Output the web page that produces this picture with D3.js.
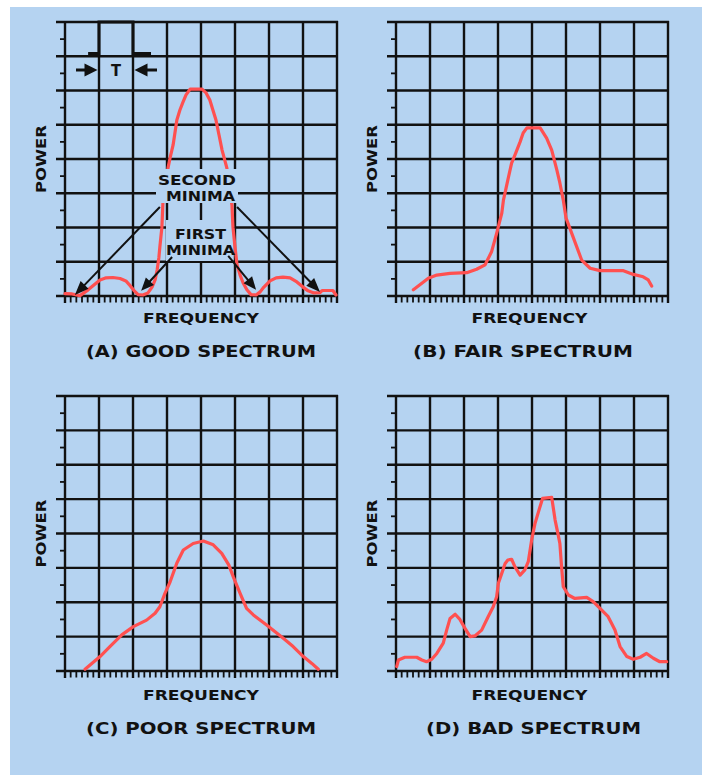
<!DOCTYPE html>
<html><head><meta charset="utf-8">
<script src="https://cdn.jsdelivr.net/npm/d3@7"></script>
<style>html,body{margin:0;padding:0;background:#fff;} svg{display:block}</style>
</head><body><svg id="c" width="702" height="775"></svg>
<script>
// ---------- data (grid units: frequency 0..8 columns, power 0..8 rows) ----------
const panelIds = ["A", "B", "C", "D"];
const captions = ["(A) GOOD SPECTRUM", "(B) FAIR SPECTRUM", "(C) POOR SPECTRUM", "(D) BAD SPECTRUM"];
const xAxisLabel = "FREQUENCY";
const yAxisLabel = "POWER";
const majorTicks = [0, 1, 2, 3, 4, 5, 6, 7, 8];

const goodFreq  = [0,0.21,0.44,0.68,0.85,1.03,1.21,1.41,1.62,1.79,1.91,2.03,2.15,2.29,2.44,2.56,2.65,2.71,2.76,2.79,2.85,2.88,2.94,3.03,3.09,3.18,3.29,3.38,3.47,3.56,3.68,4.03,4.15,4.26,4.35,4.44,4.53,4.62,4.76,4.82,4.91,4.94,5.00,5.06,5.15,5.24,5.35,5.47,5.62,5.74,5.85,6.03,6.21,6.41,6.62,6.82,7.00,7.15,7.32,7.50,7.56,7.88,7.97];
const goodPower = [0.07,0.06,0.01,0.18,0.32,0.47,0.53,0.54,0.51,0.44,0.31,0.16,0.04,0.03,0.09,0.26,0.47,0.76,1.11,1.43,2.01,2.72,3.15,3.74,4.03,4.41,5.14,5.43,5.66,5.87,6.04,6.04,5.93,5.72,5.43,5.14,4.70,4.26,3.74,3.24,2.66,2.01,1.43,0.91,0.61,0.38,0.18,0.04,0.03,0.12,0.26,0.44,0.53,0.55,0.53,0.41,0.26,0.15,0.09,0.10,0.16,0.16,0.03];

const fairFreq  = [0.51,0.76,0.95,1.20,1.59,2.08,2.37,2.62,2.81,2.96,3.11,3.16,3.29,3.40,3.50,3.65,3.74,3.85,4.24,4.43,4.58,4.73,4.82,4.92,5.00,5.21,5.46,5.71,6.00,6.69,6.98,7.27,7.42,7.52];
const fairPower = [0.18,0.37,0.52,0.61,0.66,0.68,0.78,0.91,1.29,1.83,2.41,2.80,3.39,3.88,4.12,4.50,4.76,4.91,4.91,4.61,4.26,3.68,3.30,2.80,2.28,1.72,1.05,0.81,0.74,0.74,0.63,0.56,0.47,0.29];

const poorFreq  = [0.59,1.03,1.32,1.67,2.01,2.40,2.65,2.79,2.94,3.09,3.29,3.48,3.77,4.07,4.36,4.61,4.82,4.95,5.15,5.34,5.54,5.93,6.42,6.71,7.01,7.26,7.45];
const poorPower = [0.05,0.42,0.71,1.05,1.29,1.48,1.68,1.87,2.26,2.59,3.14,3.52,3.71,3.78,3.67,3.42,3.08,2.74,2.26,1.82,1.63,1.34,0.95,0.71,0.42,0.22,0.05];

const badFreq  = [0.02,0.07,0.26,0.61,0.76,0.90,1.05,1.20,1.39,1.49,1.59,1.74,1.88,2.03,2.18,2.32,2.52,2.71,2.86,2.96,3.01,3.11,3.21,3.29,3.40,3.50,3.65,3.79,3.89,3.99,4.09,4.19,4.31,4.58,4.68,4.77,4.82,4.87,4.92,5.07,5.26,5.61,5.80,6.00,6.24,6.44,6.59,6.79,6.98,7.18,7.37,7.57,7.76,7.96];
const badPower = [0.13,0.32,0.40,0.40,0.32,0.27,0.34,0.51,0.81,1.19,1.53,1.65,1.50,1.24,1.00,1.02,1.19,1.58,1.87,2.16,2.55,2.84,3.13,3.23,3.25,3.03,2.79,2.94,3.18,3.81,4.30,4.63,5.02,5.05,4.39,3.96,3.71,3.03,2.45,2.21,2.11,2.14,2.02,1.82,1.58,1.19,0.71,0.42,0.34,0.40,0.51,0.37,0.27,0.27];

// annotation content for panel A (in grid units)
const pulseFreq  = [0.68, 1, 1, 2, 2, 2.53];
const pulseLevel = [7.08, 7.08, 8, 8, 7.08, 7.08];
const secondMinimaLabel = ["SECOND", "MINIMA"];
const firstMinimaLabel = ["FIRST", "MINIMA"];
const secondArrowFrom = [[2.79, 2.6], [5.06, 2.6]];
const secondArrowTo   = [[0.29, 0.03], [7.5, 0.12]];
const firstArrowFrom  = [[3.15, 1.14], [4.80, 1.17]];
const firstArrowTo    = [[2.24, 0.15], [5.62, 0.18]];

const seriesFreq  = [goodFreq, fairFreq, poorFreq, badFreq];
const seriesPower = [goodPower, fairPower, poorPower, badPower];

// ---------- drawing ----------
const BG = "#b5d3f1", INK = "#111", RED = "#ff5050";
const FONT = "'DejaVu Sans', 'Liberation Sans', Arial, sans-serif";
const svg = d3.select("#c");
svg.append("rect").attr("x", 10).attr("y", 7).attr("width", 692).attr("height", 768).attr("fill", BG);

const layout = [
  {x0: 65,  y0: 22,  w: 272, h: 274, capY: 357, capX: 201,   capLen: 230, freqY: 323},
  {x0: 396, y0: 22,  w: 272, h: 274, capY: 357, capX: 523,   capLen: 220, freqY: 323},
  {x0: 65,  y0: 396, w: 272, h: 275, capY: 734, capX: 201,   capLen: 230, freqY: 700},
  {x0: 396, y0: 396, w: 272, h: 275, capY: 734, capX: 533.5, capLen: 215, freqY: 700}
];

function arrow(g, x1, y1, x2, y2, L, W, sw) {
  const dx = x2 - x1, dy = y2 - y1, len = Math.hypot(dx, dy);
  const ux = dx / len, uy = dy / len, nx = -uy, ny = ux;
  const bx = x2 - ux * L, by = y2 - uy * L;
  g.append("line").attr("x1", x1).attr("y1", y1).attr("x2", bx + ux * 2).attr("y2", by + uy * 2)
    .attr("stroke", INK).attr("stroke-width", sw);
  g.append("path").attr("d", `M${x2},${y2}L${bx + nx * W},${by + ny * W}L${bx - nx * W},${by - ny * W}Z`)
    .attr("fill", INK);
}

function label(g, txt, x, y, len, size, rotate) {
  const t = g.append("text").attr("x", x).attr("y", y).text(txt)
    .attr("font-family", FONT).attr("font-weight", "bold").attr("font-size", size)
    .attr("fill", INK).attr("text-anchor", "middle")
    .attr("textLength", len).attr("lengthAdjust", "spacingAndGlyphs");
  if (rotate) t.attr("transform", `rotate(-90,${x},${y})`);
  return t;
}

layout.forEach((L, i) => {
  const g = svg.append("g");
  const x = d3.scaleLinear().domain([0, 8]).range([L.x0, L.x0 + L.w]);
  const y = d3.scaleLinear().domain([0, 8]).range([L.y0 + L.h, L.y0]);
  const base = y(0);

  // minor ticks
  const minorX = [];
  for (let k = 0; k < 8; k++) for (let j = 1; j < 6; j++) minorX.push(k + j / 6);
  g.selectAll(".mx").data(minorX).join("line")
    .attr("x1", d => x(d)).attr("x2", d => x(d)).attr("y1", base).attr("y2", base + 6.5)
    .attr("stroke", INK).attr("stroke-width", 1.8);
  const minorY = d3.range(0.5, 8, 1);
  g.selectAll(".my").data(minorY).join("line")
    .attr("x1", L.x0 - 5).attr("x2", L.x0).attr("y1", d => y(d)).attr("y2", d => y(d))
    .attr("stroke", INK).attr("stroke-width", 1.8);

  // major grid
  g.selectAll(".gv").data(majorTicks).join("line")
    .attr("x1", d => x(d)).attr("x2", d => x(d)).attr("y1", y(8) - 1).attr("y2", base + 7)
    .attr("stroke", INK).attr("stroke-width", 2.4);
  g.selectAll(".gh").data(majorTicks).join("line")
    .attr("x1", L.x0 - 9).attr("x2", x(8) + 1).attr("y1", d => y(d)).attr("y2", d => y(d))
    .attr("stroke", INK).attr("stroke-width", 2.4);

  // annotation background box (first minima) sits under the curve
  if (i === 0) {
    g.append("rect").attr("x", 166).attr("y", 220).attr("width", 67).attr("height", 41).attr("fill", BG);
  }

  // spectrum curve
  const pts = seriesFreq[i].map((f, k) => [f, seriesPower[i][k]]);
  g.append("path").datum(pts)
    .attr("d", d3.line().x(d => x(d[0])).y(d => y(d[1])).curve(d3.curveLinear))
    .attr("fill", "none").attr("stroke", RED).attr("stroke-width", 3.2)
    .attr("stroke-linejoin", "round").attr("stroke-linecap", "round");

  // axis labels and caption
  label(g, xAxisLabel, L.x0 + L.w / 2 - (i % 2 ? 2.5 : 0), L.freqY, 116, 14.5);
  label(g, yAxisLabel, L.x0 - 19, L.y0 + L.h / 2, 68, 14.5, true);
  label(g, captions[i], L.capX, L.capY, L.capLen, 16);

  if (i === 0) {
    // second minima label box
    g.append("rect").attr("x", 156).attr("y", 169).attr("width", 82).attr("height", 34).attr("fill", BG);
    label(g, secondMinimaLabel[0], 197, 184.5, 78, 14.5);
    label(g, secondMinimaLabel[1], 200.5, 200.5, 69, 14.5);
    label(g, firstMinimaLabel[0], 200.5, 239, 51, 14.5);
    label(g, firstMinimaLabel[1], 200.5, 254.5, 69, 14.5);

    secondArrowFrom.forEach((s, k) => {
      const e = secondArrowTo[k];
      arrow(g, x(s[0]), y(s[1]), x(e[0]), y(e[1]), 14, 5.5, 2);
    });
    firstArrowFrom.forEach((s, k) => {
      const e = firstArrowTo[k];
      arrow(g, x(s[0]), y(s[1]), x(e[0]), y(e[1]), 13, 5.5, 2);
    });

    // pulse inset
    const pulse = pulseFreq.map((f, k) => [f, pulseLevel[k]]);
    g.append("path").datum(pulse)
      .attr("d", d3.line().x(d => x(d[0])).y(d => y(d[1])))
      .attr("fill", "none").attr("stroke", INK).attr("stroke-width", 3);
    // T width arrows
    const ty = 70;
    arrow(g, x(1) - 23, ty, x(1) - 1.5, ty, 13, 6.5, 3);
    arrow(g, x(2) + 24, ty, x(2) + 1.5, ty, 13, 6.5, 3);
    label(g, "T", (x(1) + x(2)) / 2, 75.5, 10, 16);
  }
});
</script></body></html>
